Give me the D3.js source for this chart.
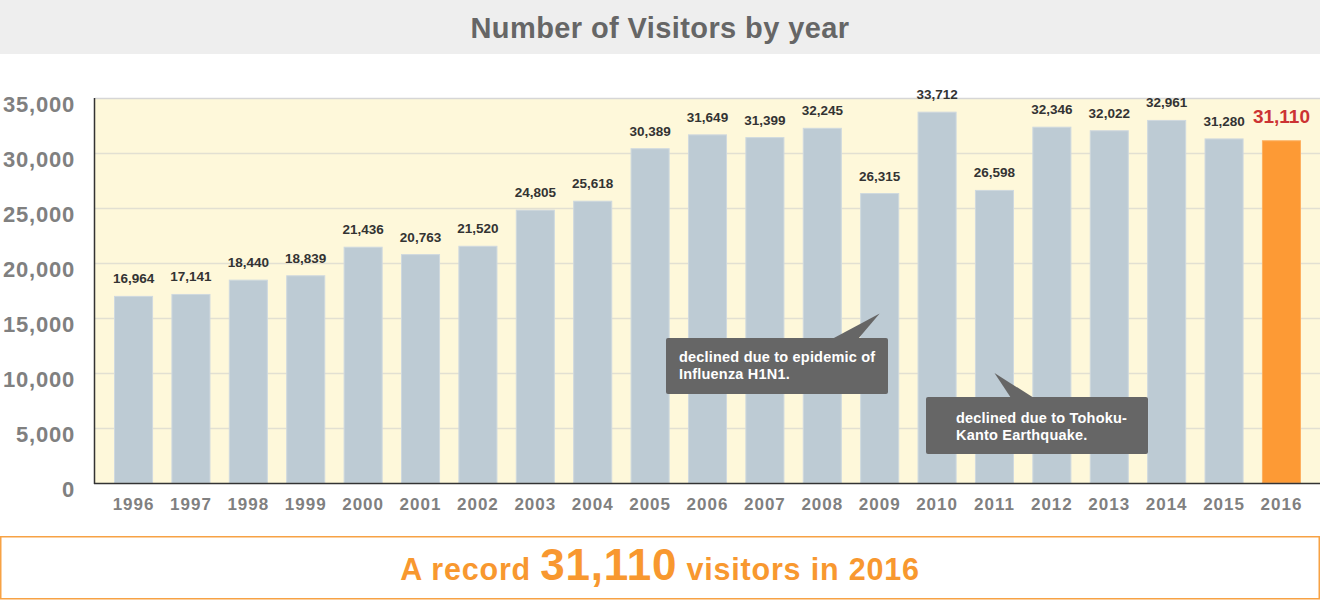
<!DOCTYPE html>
<html>
<head>
<meta charset="utf-8">
<script src="https://cdn.jsdelivr.net/npm/d3@7"></script>
<style>
  html, body { margin: 0; padding: 0; background: #fff; }
  svg { display: block; font-family: "Liberation Sans", Arial, sans-serif; }
</style>
</head>
<body>
<svg id="chart" width="1320" height="600"></svg>
<script>
// data
var years = ["1996","1997","1998","1999","2000","2001","2002","2003","2004","2005","2006",
             "2007","2008","2009","2010","2011","2012","2013","2014","2015","2016"];
var visitors = [16964,17141,18440,18839,21436,20763,21520,24805,25618,30389,31649,
                31399,32245,26315,33712,26598,32346,32022,32961,31280,31110];
var yTicks = [0,5000,10000,15000,20000,25000,30000,35000];
var notes = [
  {year: "2009", at: 15400, lines: ["declined due to epidemic of", "Influenza H1N1."]},
  {year: "2011", at: 10000, lines: ["declined due to Tohoku-", "Kanto Earthquake."]}
];

var svg = d3.select("#chart");
var W = 1320;
var plotL = 95, plotR = 1320, plotT = 98, plotB = 483;

// title band
svg.append("rect").attr("x", 0).attr("y", 0).attr("width", W).attr("height", 54).attr("fill", "#eeeeee");
svg.append("text").attr("x", 660).attr("y", 38).attr("text-anchor", "middle")
  .attr("font-size", 29).attr("font-weight", "bold").attr("fill", "#666666")
  .attr("letter-spacing", 0.4)
  .text("Number of Visitors by year");

var x = d3.scaleBand().domain(years).range([plotL, plotR]).paddingInner(0.337).paddingOuter(0.34);
var y = d3.scaleLinear().domain([0, 35000]).range([plotB, plotT]);

var g = svg.append("g");

// plot background
g.append("rect").attr("x", plotL).attr("y", plotT).attr("width", plotR - plotL).attr("height", plotB - plotT)
  .attr("fill", "#fef8da");

// grid
g.selectAll(".grid").data(yTicks.filter(function(d){ return d > 0; }))
  .enter().append("line")
  .attr("x1", plotL).attr("x2", plotR)
  .attr("y1", function(d){ return y(d) + 0.5; }).attr("y2", function(d){ return y(d) + 0.5; })
  .attr("stroke", function(d){ return d === 35000 ? "#d6d6d6" : "#e2e0d2"; })
  .attr("stroke-width", 1.5);

// bars
var last = years[years.length - 1];
g.selectAll(".bar").data(years)
  .enter().append("rect")
  .attr("x", function(d){ return x(d); })
  .attr("y", function(d, i){ return y(visitors[i]); })
  .attr("width", x.bandwidth())
  .attr("height", function(d, i){ return plotB - y(visitors[i]); })
  .attr("fill", function(d){ return d === last ? "#fd9a35" : "#bdcbd4"; })
  .attr("stroke", function(d){ return d === last ? "#fdb060" : "#cfd9df"; })
  .attr("stroke-width", 1);

// value labels
g.selectAll(".val").data(years)
  .enter().append("text")
  .attr("x", function(d){ return x(d) + x.bandwidth() / 2; })
  .attr("y", function(d, i){ return y(visitors[i]) - (d === last ? 18 : 13); })
  .attr("text-anchor", "middle")
  .attr("font-weight", "bold")
  .attr("font-size", function(d){ return d === last ? 19 : 13.5; })
  .attr("fill", function(d){ return d === last ? "#cc3333" : "#333333"; })
  .text(function(d, i){ return d3.format(",")(visitors[i]); });

// axes lines
g.append("line").attr("x1", plotL - 0.5).attr("x2", plotL - 0.5).attr("y1", plotT).attr("y2", plotB + 1)
  .attr("stroke", "#333").attr("stroke-width", 1.5);
g.append("line").attr("x1", plotL - 1).attr("x2", plotR).attr("y1", plotB + 0.5).attr("y2", plotB + 0.5)
  .attr("stroke", "#333").attr("stroke-width", 1.5);

// y tick labels
g.selectAll(".ytick").data(yTicks)
  .enter().append("text")
  .attr("x", 75).attr("y", function(d){ return y(d) + 14; })
  .attr("text-anchor", "end").attr("font-weight", "bold").attr("font-size", 22)
  .attr("letter-spacing", 0.8)
  .attr("fill", "#808080")
  .text(function(d){ return d3.format(",")(d); });

// x tick labels
g.selectAll(".xtick").data(years)
  .enter().append("text")
  .attr("x", function(d){ return x(d) + x.bandwidth() / 2; })
  .attr("y", 510)
  .attr("text-anchor", "middle").attr("font-weight", "bold").attr("font-size", 17)
  .attr("letter-spacing", 1)
  .attr("fill", "#808080")
  .text(function(d){ return d; });

// callouts
var boxes = [
  {bx: 666, by: 338, bw: 222, bh: 56, base: [832, 858], tx: 679, ty: 362},
  {bx: 926, by: 397, bw: 222, bh: 57, base: [1011, 1034], tx: 956, ty: 423}
];
notes.forEach(function(n, i){
  var b = boxes[i];
  var tipX = x(n.year) + x.bandwidth() / 2, tipY = y(n.at);
  var c = g.append("g");
  c.append("path")
    .attr("d", "M" + b.base[0] + "," + (b.by + 1) + "L" + tipX + "," + tipY + "L" + b.base[1] + "," + (b.by + 1) + "Z")
    .attr("fill", "#666666");
  c.append("rect").attr("x", b.bx).attr("y", b.by).attr("width", b.bw).attr("height", b.bh)
    .attr("rx", 2).attr("fill", "#666666");
  n.lines.forEach(function(t, j){
    c.append("text").attr("x", b.tx).attr("y", b.ty + j * 17)
      .attr("font-weight", "bold").attr("font-size", 14.5).attr("fill", "#ffffff")
      .attr("letter-spacing", 0.2)
      .text(t);
  });
});

// bottom banner
svg.append("rect").attr("x", 0.75).attr("y", 536.75).attr("width", W - 1.5).attr("height", 62)
  .attr("fill", "#fff").attr("stroke", "#f7a244").attr("stroke-width", 1.5);
var banner = svg.append("text").attr("x", 660).attr("y", 580).attr("text-anchor", "middle")
  .attr("font-weight", "bold").attr("fill", "#f8982f").attr("letter-spacing", 0.8);
banner.append("tspan").attr("font-size", 30.5).text("A record ");
banner.append("tspan").attr("font-size", 44).text(d3.format(",")(visitors[visitors.length - 1]));
banner.append("tspan").attr("font-size", 30.5).text(" visitors in " + last);
</script>
</body>
</html>
